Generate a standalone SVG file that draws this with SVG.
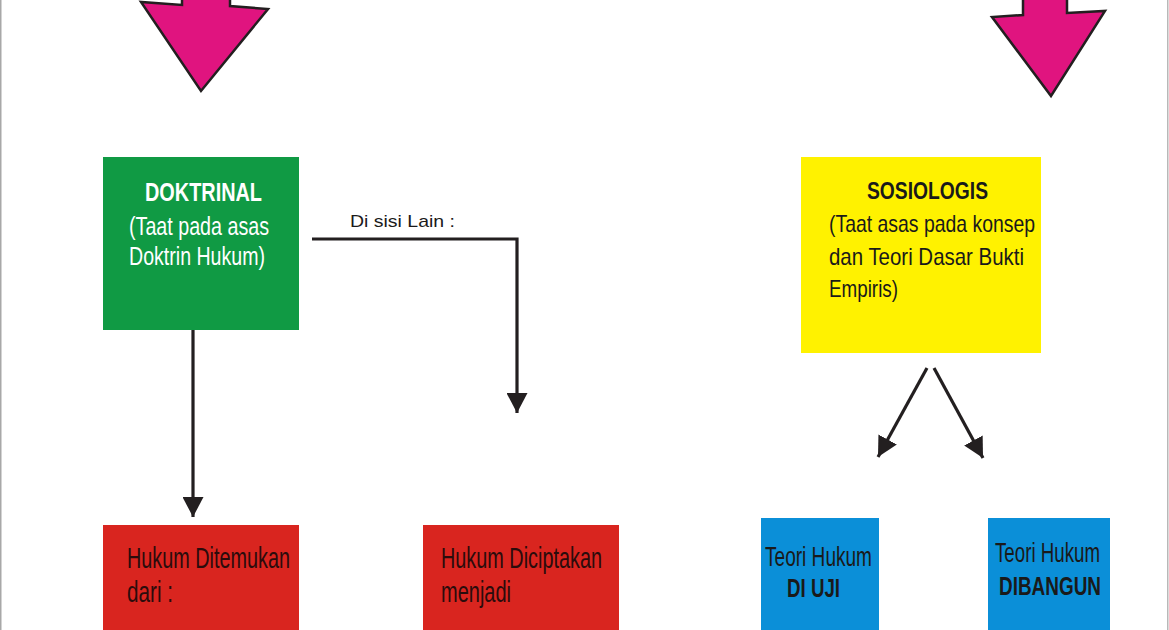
<svg xmlns="http://www.w3.org/2000/svg" width="1169" height="630" viewBox="0 0 1169 630">
<style>
.t{font-family:"Liberation Sans",Arial,sans-serif;}
.b{font-weight:bold;}
.w{fill:#ffffff;}
.k{fill:#1a1a1a;}
.dr{fill:#2b0c0c;}
.conn{stroke:#231f20;stroke-width:3.2;fill:none;}
.pink{fill:#e0147f;stroke:#231f20;stroke-width:2.5;stroke-linejoin:miter;}
</style>
<defs>
<marker id="ah" markerUnits="userSpaceOnUse" markerWidth="20" markerHeight="21" refX="20" refY="10.5" orient="auto">
<path d="M0,0 L20,10.5 L0,21 z" fill="#231f20"/>
</marker>
</defs>
<rect x="0" y="0" width="1169" height="630" fill="#ffffff"/>
<rect x="0" y="0" width="1.5" height="630" fill="#a8a8a8"/>
<rect x="1167" y="0" width="1.5" height="630" fill="#b8b8b8"/>

<g id="arrow-left-top">
<polygon class="pink" points="182,-5 182,5 141,2 201,91 268,9 230,6 230,-5"/>
</g>
<g id="arrow-right-top">
<polygon class="pink" points="1023,-5 1023,15 992,17 1051,96 1105,11 1067,13 1067,-5"/>
</g>

<g id="doktrinal">
<rect x="103" y="157" width="196" height="173" fill="#109a44"/>
<text class="t b w" x="145" y="201" font-size="25" textLength="117" lengthAdjust="spacingAndGlyphs">DOKTRINAL</text>
<text class="t w" x="129" y="235" font-size="25" textLength="140" lengthAdjust="spacingAndGlyphs">(Taat pada asas</text>
<text class="t w" x="129" y="265" font-size="25" textLength="136" lengthAdjust="spacingAndGlyphs">Doktrin Hukum)</text>
</g>

<g id="label-disisi">
<text class="t k" x="350" y="227" font-size="17" textLength="105" lengthAdjust="spacingAndGlyphs">Di sisi Lain :</text>
</g>

<g id="sosiologis">
<rect x="801" y="157" width="240" height="196" fill="#fff200"/>
<text class="t b k" x="867" y="199" font-size="24" textLength="121" lengthAdjust="spacingAndGlyphs">SOSIOLOGIS</text>
<text class="t k" x="829" y="232" font-size="24" textLength="206" lengthAdjust="spacingAndGlyphs">(Taat asas pada konsep</text>
<text class="t k" x="829" y="265" font-size="24" textLength="195" lengthAdjust="spacingAndGlyphs">dan Teori Dasar Bukti</text>
<text class="t k" x="829" y="297" font-size="24" textLength="69" lengthAdjust="spacingAndGlyphs">Empiris)</text>
</g>

<g id="hukum-ditemukan">
<rect x="103" y="525" width="196" height="115" fill="#d9251f"/>
<text class="t dr" x="127" y="568" font-size="29" textLength="163" lengthAdjust="spacingAndGlyphs">Hukum Ditemukan</text>
<text class="t dr" x="127" y="602" font-size="29" textLength="46" lengthAdjust="spacingAndGlyphs">dari :</text>
</g>

<g id="hukum-diciptakan">
<rect x="423" y="525" width="196" height="115" fill="#d9251f"/>
<text class="t dr" x="441" y="568" font-size="29" textLength="161" lengthAdjust="spacingAndGlyphs">Hukum Diciptakan</text>
<text class="t dr" x="441" y="602" font-size="29" textLength="70" lengthAdjust="spacingAndGlyphs">menjadi</text>
</g>

<g id="teori-diuji">
<rect x="761" y="518" width="118" height="122" fill="#0b8fd8"/>
<text class="t k" x="765" y="566" font-size="27" textLength="107" lengthAdjust="spacingAndGlyphs">Teori Hukum</text>
<text class="t b k" x="787" y="597" font-size="26" textLength="53" lengthAdjust="spacingAndGlyphs">DI UJI</text>
</g>

<g id="teori-dibangun">
<rect x="988" y="518" width="122" height="122" fill="#0b8fd8"/>
<text class="t k" x="995" y="562" font-size="27" textLength="105" lengthAdjust="spacingAndGlyphs">Teori Hukum</text>
<text class="t b k" x="999" y="595" font-size="26" textLength="102" lengthAdjust="spacingAndGlyphs">DIBANGUN</text>
</g>

<g id="connectors">
<line class="conn" x1="193" y1="330" x2="193" y2="517" marker-end="url(#ah)"/>
<polyline class="conn" points="312,239 517,239 517,413" marker-end="url(#ah)"/>
<line class="conn" x1="927" y1="368" x2="878" y2="457" marker-end="url(#ah)"/>
<line class="conn" x1="934" y1="368" x2="983" y2="458" marker-end="url(#ah)"/>
</g>
</svg>
